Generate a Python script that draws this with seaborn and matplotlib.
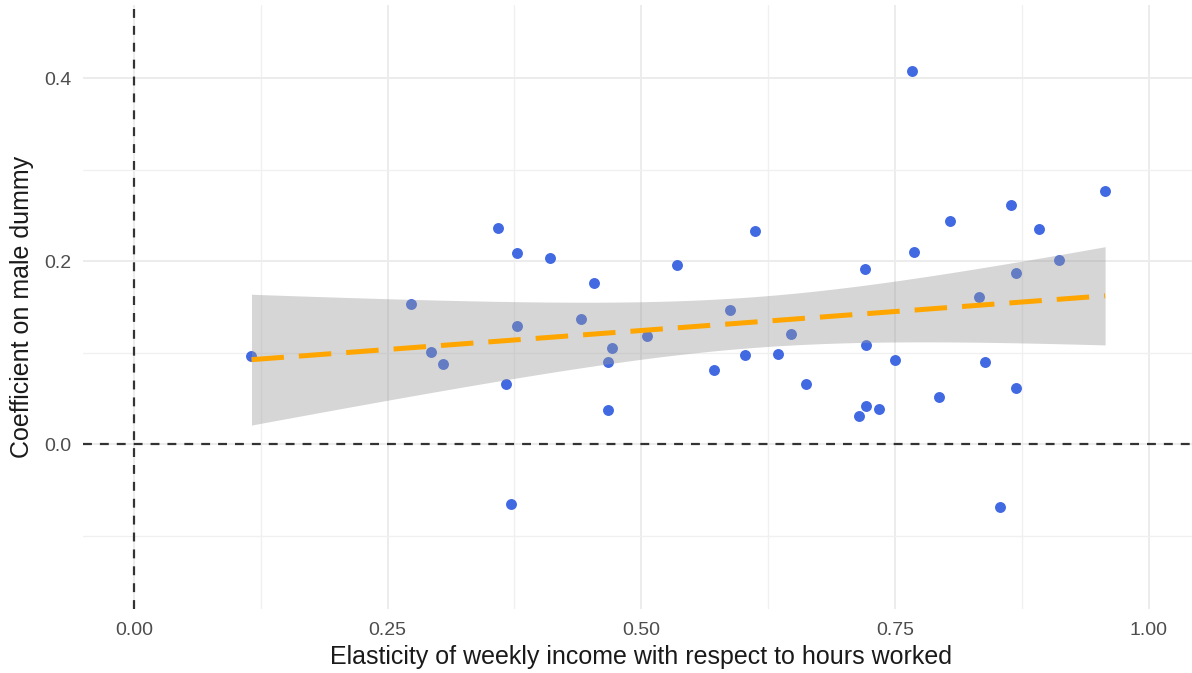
"""
Male dummy coefficient vs income elasticity
Scatter with linear fit and confidence band
"""
import numpy as np
import pandas as pd
import matplotlib.pyplot as plt
import seaborn as sns
from matplotlib.ticker import FixedLocator

# Data
elasticity = [0.116, 0.273, 0.293, 0.305, 0.359, 0.367, 0.372, 0.378, 0.378,
              0.410, 0.441, 0.453, 0.467, 0.467, 0.471, 0.506, 0.535, 0.572,
              0.587, 0.602, 0.612, 0.635, 0.648, 0.662, 0.715, 0.720, 0.721,
              0.721, 0.734, 0.750, 0.767, 0.769, 0.793, 0.804, 0.833, 0.839,
              0.853, 0.864, 0.869, 0.869, 0.892, 0.912, 0.957]
male_coef = [0.096, 0.153, 0.101, 0.088, 0.236, 0.066, -0.065, 0.209, 0.129,
             0.203, 0.137, 0.176, 0.037, 0.090, 0.105, 0.118, 0.196, 0.081,
             0.147, 0.098, 0.233, 0.099, 0.121, 0.066, 0.031, 0.192, 0.109,
             0.042, 0.038, 0.092, 0.408, 0.210, 0.052, 0.244, 0.161, 0.090,
             -0.069, 0.261, 0.187, 0.062, 0.235, 0.201, 0.277]

x_ticks = [0.0, 0.25, 0.5, 0.75, 1.0]
x_tick_labels = ["0.00", "0.25", "0.50", "0.75", "1.00"]
x_minor = [0.125, 0.375, 0.625, 0.875]
y_ticks = [0.0, 0.2, 0.4]
y_tick_labels = ["0.0", "0.2", "0.4"]
y_minor = [-0.1, 0.1, 0.3]

df = pd.DataFrame({"elasticity": elasticity, "male_coef": male_coef})

sns.set_theme(style="white")
plt.rcParams['font.family'] = ['Liberation Sans', 'DejaVu Sans']

W, H = 1192, 673
fig = plt.figure(figsize=(W / 100, H / 100), dpi=100)
ax = fig.add_axes([83 / W, 1 - 609 / H, 1116.5 / W, 604 / H])

# Reference lines
ax.axvline(0, color="#333333", linewidth=1.6, dashes=(4, 3.6), zorder=1.5)
ax.axhline(0, color="#333333", linewidth=1.6, dashes=(4, 3.6), zorder=1.5)

# Points
sns.scatterplot(data=df, x="elasticity", y="male_coef", color="#4169E1",
                s=62, linewidth=0, ax=ax, zorder=1)

# Linear fit line
sns.regplot(data=df, x="elasticity", y="male_coef", scatter=False, ci=None,
            color="#FFA500", ax=ax,
            line_kws=dict(linewidth=3.6, dashes=(6.5, 3), zorder=3))

# 95% confidence band of the OLS mean (t-based, like geom_smooth)
x = df["elasticity"].to_numpy()
y = df["male_coef"].to_numpy()
n = len(x)
slope, intercept = np.polyfit(x, y, 1)
resid = y - (intercept + slope * x)
s_err = np.sqrt(np.sum(resid ** 2) / (n - 2))
t_crit = 2.0195  # t(0.975, df=41)
grid = np.linspace(x.min(), x.max(), 100)
fit = intercept + slope * grid
se = s_err * np.sqrt(1 / n + (grid - x.mean()) ** 2 / np.sum((x - x.mean()) ** 2))
ax.fill_between(grid, fit - t_crit * se, fit + t_crit * se,
                color="#999999", alpha=0.4, linewidth=0, zorder=2)

ax.set_xlim(-0.05, 1.05)
ax.set_ylim(-0.18, 0.48)

ax.xaxis.set_major_locator(FixedLocator(x_ticks))
ax.set_xticklabels(x_tick_labels)
ax.xaxis.set_minor_locator(FixedLocator(x_minor))
ax.yaxis.set_major_locator(FixedLocator(y_ticks))
ax.set_yticklabels(y_tick_labels)
ax.yaxis.set_minor_locator(FixedLocator(y_minor))

ax.set_axisbelow(True)
ax.grid(which="major", color="#ececec", linewidth=1.4)
ax.grid(which="minor", color="#f0f0f0", linewidth=1.0)
for side in ax.spines.values():
    side.set_visible(False)

ax.tick_params(which="both", length=0)
ax.tick_params(axis="x", labelsize=14, labelcolor="#4d4d4d", pad=9.5)
ax.tick_params(axis="y", labelsize=14, labelcolor="#4d4d4d", pad=8.5)

ax.set_xlabel("Elasticity of weekly income with respect to hours worked",
              fontsize=18, color="#1a1a1a", labelpad=4)
ax.set_ylabel("Coefficient on male dummy", fontsize=18, color="#1a1a1a",
              labelpad=7)

fig.savefig("out.png", dpi=100)
